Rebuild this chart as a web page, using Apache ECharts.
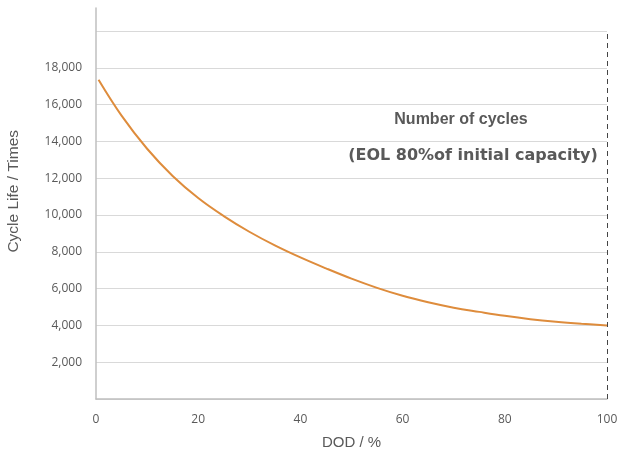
<!DOCTYPE html>
<html>
<head>
<meta charset="utf-8">
<script src="https://cdn.jsdelivr.net/npm/echarts@6/dist/echarts.min.js"></script>
<style>html,body{margin:0;padding:0;background:#fff}#c{width:624px;height:456px}</style>
</head>
<body>
<div id="c"></div>
<script>
var dod = [0.5, 5, 10, 15, 20, 25, 30, 35, 40, 45, 50, 55, 60, 65, 70, 75, 80, 85, 90, 95, 100];
var cycles = [17350, 15400, 13600, 12120, 10920, 9940, 9090, 8350, 7695, 7100, 6540, 6040, 5610, 5260, 4965, 4735, 4520, 4340, 4200, 4090, 4000];
var xTicks = [0, 20, 40, 60, 80, 100];
var yTickLabels = ['2,000','4,000','6,000','8,000','10,000','12,000','14,000','16,000','18,000'];
var title1 = 'Number of cycles';
var title2 = '(EOL 80%of initial capacity)';

var points = dod.map(function (d, i) { return [d, cycles[i]]; });
var chart = echarts.init(document.getElementById('c'));
var grey = '#595959';
chart.setOption({
  animation: false,
  grid: { left: 96, right: 17, top: 8, bottom: 57 },
  xAxis: {
    type: 'value', min: 0, max: 100, interval: 20,
    name: 'DOD / %', nameLocation: 'middle', nameGap: 36,
    nameTextStyle: { color: grey, fontSize: 15, fontFamily: 'Liberation Sans' },
    axisLine: { show: true, lineStyle: { color: '#bfbfbf', width: 1.5 } },
    axisTick: { show: false },
    splitLine: { show: false },
    axisLabel: { color: grey, fontSize: 12, fontFamily: 'Open Sans', margin: 15,
      formatter: function (v) { return xTicks.indexOf(v) >= 0 ? String(v) : ''; } }
  },
  yAxis: {
    type: 'value', min: 0, max: 21250, interval: 2000,
    axisLine: { show: true, lineStyle: { color: '#bfbfbf', width: 1.5 } },
    axisTick: { show: false },
    splitLine: { show: true, showMaxLine: false, lineStyle: { color: '#d9d9d9', width: 1 } },
    axisLabel: { color: grey, fontSize: 12, fontFamily: 'Open Sans', margin: 14, showMaxLabel: false,
      formatter: function (v) { var i = v / 2000 - 1; return (i >= 0 && i < yTickLabels.length && v % 2000 === 0) ? yTickLabels[i] : ''; } }
  },
  graphic: [
    { type: 'text', left: 6, top: 130, style: { text: 'Cycle Life / Times', fill: grey, font: '15.5px "Liberation Sans"' }, rotation: Math.PI / 2 },
    { type: 'text', x: 461, y: 120, style: { text: title1, fill: grey, font: 'bold 16px "Liberation Sans"', align: 'center', verticalAlign: 'middle' } },
    { type: 'text', x: 473, y: 156, style: { text: title2, fill: grey, font: 'bold 16px "DejaVu Sans"', align: 'center', verticalAlign: 'middle' } }
  ],
  series: [{
    type: 'line', data: points, smooth: 0.4, symbol: 'none',
    lineStyle: { color: '#DE8C3C', width: 2 },
    markLine: {
      silent: true, symbol: 'none', label: { show: false },
      lineStyle: { color: '#444', type: [5, 4], width: 1 },
      data: [[{ coord: [100, 0] }, { coord: [100, 20000] }]]
    }
  }]
});
</script>
</body>
</html>
